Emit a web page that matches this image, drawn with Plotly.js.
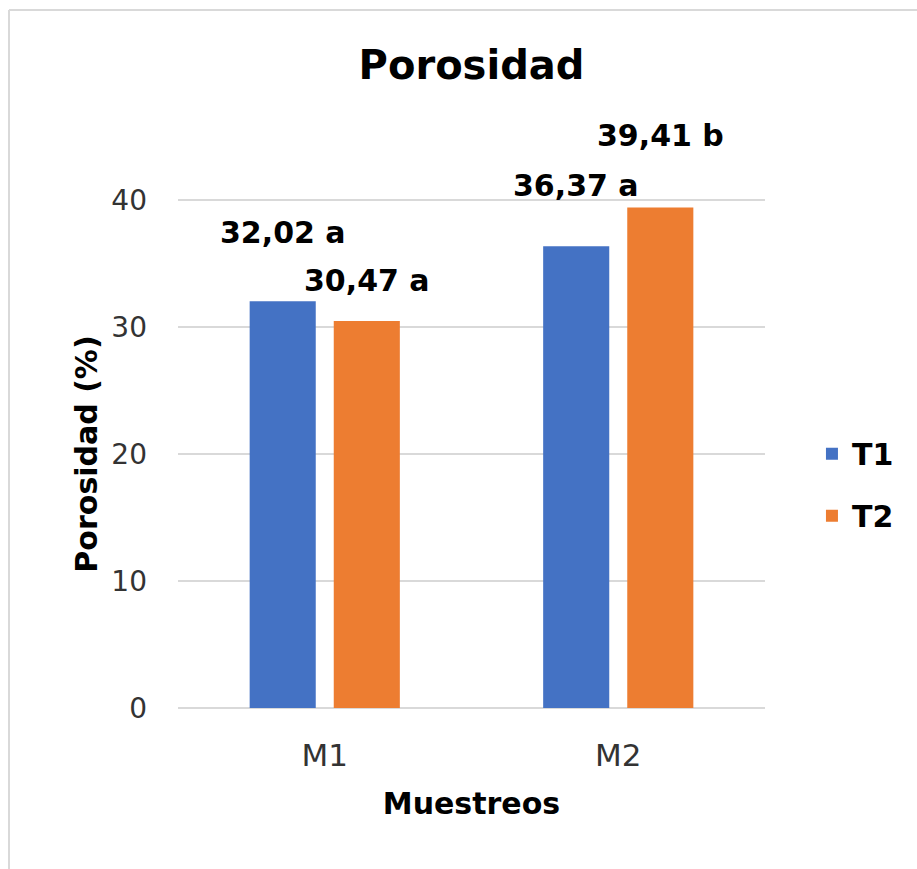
<!DOCTYPE html>
<html>
<head>
<meta charset="utf-8">
<script src="https://cdn.plot.ly/plotly-3.0.1.min.js"></script>
<style>
  html, body { margin: 0; padding: 0; background: #ffffff; }
  #chart { width: 917px; height: 869px; }
</style>
</head>
<body>
<div id="chart"></div>
<script>
// ---- data ----
const categories = ['M1', 'M2'];
const seriesNames = ['T1', 'T2'];
const t1Values = [32.02, 36.37];
const t2Values = [30.47, 39.41];
const t1Letters = ['a', 'a'];
const t2Letters = ['a', 'b'];
const yTickValues = [0, 10, 20, 30, 40];

// ---- styling / placement (not data) ----
const colors = ['#4472C4', '#ED7D31'];
const barSlotShiftPx = [-42, 42];
const labelLiftPx = [[69, 61], [41, 72]]; // [series][category]
const FONT = 'DejaVu Sans, Verdana, sans-serif';
const M = { l: 178, r: 152, t: 198, b: 159 };
const W = 917, H = 869;
const plotW = W - M.l - M.r, plotH = H - M.t - M.b;
function px2paperX(p) { return (p - M.l) / plotW; }
function px2paperY(p) { return (H - M.b - p) / plotH; }

function fmt(v) { return v.toFixed(2).replace('.', ','); }

const values = [t1Values, t2Values];
const letters = [t1Letters, t2Letters];

const traces = seriesNames.map((name, s) => ({
  type: 'bar',
  name: '<b>' + name + '</b>',
  x: categories,
  y: values[s],
  marker: { color: colors[s], line: { width: 0 } },
  legendgroup: name,
  hoverinfo: 'x+y+name'
}));

const annotations = [];
seriesNames.forEach((name, s) => {
  categories.forEach((cat, c) => {
    annotations.push({
      x: cat, y: values[s][c], xref: 'x', yref: 'y',
      text: '<b>' + fmt(values[s][c]) + ' ' + letters[s][c] + '</b>',
      showarrow: false,
      xshift: barSlotShiftPx[s],
      yshift: labelLiftPx[s][c],
      xanchor: 'center', yanchor: 'middle',
      font: { family: FONT, size: 30, color: '#000000' }
    });
  });
});

const layout = {
  width: W, height: H,
  margin: M,
  paper_bgcolor: '#ffffff',
  plot_bgcolor: '#ffffff',
  barmode: 'group',
  bargap: 0.427,
  bargroupgap: 0.214,
  title: {
    text: '<b>Porosidad</b>',
    font: { family: FONT, size: 40, color: '#000000' },
    x: 0.5, xref: 'paper', xanchor: 'center',
    y: 1 - 65 / H, yref: 'container', yanchor: 'middle'
  },
  xaxis: {
    type: 'category',
    tickfont: { family: FONT, size: 31, color: '#333333' },
    showgrid: false, zeroline: false, showline: false,
    ticks: '',
    ticklabelstandoff: 24,
    title: { text: '<b>Muestreos</b>', font: { family: FONT, size: 30, color: '#000000' }, standoff: 20 }
  },
  yaxis: {
    range: [-0.16, 40.16],
    tickvals: yTickValues,
    ticktext: yTickValues.map(String),
    tickfont: { family: FONT, size: 28, color: '#333333' },
    showgrid: true, gridcolor: '#d9d9d9', gridwidth: 2,
    zeroline: false, showline: false,
    ticks: '',
    ticklabelstandoff: 30,
    title: { text: '<b>Porosidad (%)</b>', font: { family: FONT, size: 30, color: '#000000' }, standoff: 4 }
  },
  showlegend: true,
  legend: {
    x: 1.08, xanchor: 'left',
    y: 0.44, yanchor: 'middle',
    font: { family: FONT, size: 30, color: '#000000' },
    tracegroupgap: 20,
    itemwidth: 30,
    bgcolor: 'rgba(0,0,0,0)'
  },
  annotations: annotations,
  shapes: [
    { type: 'line', xref: 'paper', yref: 'paper', x0: px2paperX(9), x1: px2paperX(9), y0: px2paperY(10), y1: px2paperY(900), line: { color: '#d9d9d9', width: 2 } },
    { type: 'line', xref: 'paper', yref: 'paper', x0: px2paperX(9), x1: px2paperX(940), y0: px2paperY(10), y1: px2paperY(10), line: { color: '#d9d9d9', width: 2 } }
  ]
};

Plotly.newPlot('chart', traces, layout, { displayModeBar: false, staticPlot: true });
</script>
</body>
</html>
